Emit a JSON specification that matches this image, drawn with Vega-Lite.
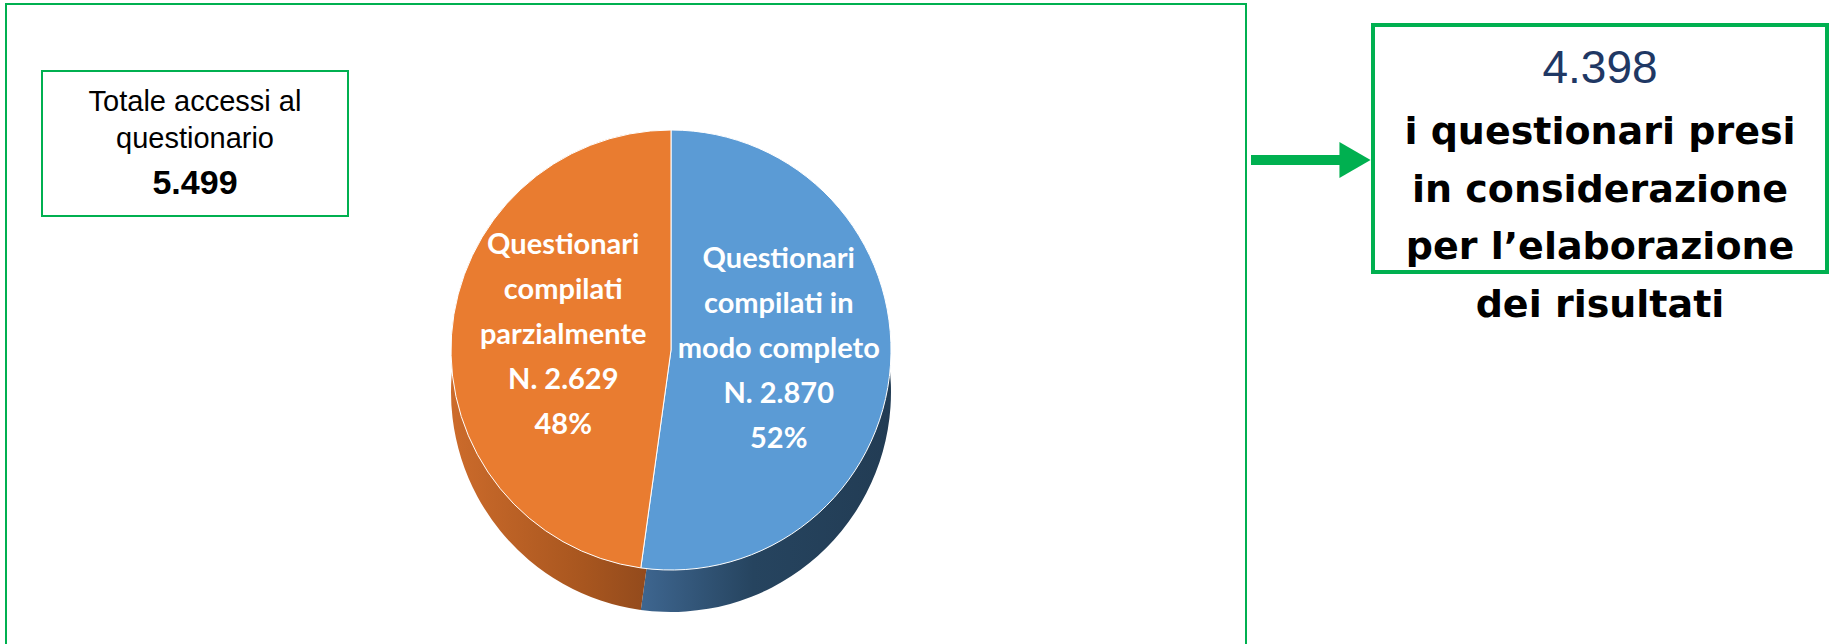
{
  "$schema": "https://vega.github.io/schema/vega-lite/v6.json",
  "width": 1832,
  "height": 644,
  "autosize": {"type": "fit", "contains": "padding"},
  "padding": 0,
  "background": "#ffffff",
  "config": {"view": {"stroke": null}},
  "datasets": {
    "fette": [
      {"categoria": "Questionari compilati in modo completo", "n": 2870, "ordine": 1, "etichetta": "Questionari\ncompilati in\nmodo completo\nN. 2.870\n52%"},
      {"categoria": "Questionari compilati parzialmente", "n": 2629, "ordine": 2, "etichetta": "Questionari\ncompilati\nparzialmente\nN. 2.629\n48%"}
    ],
    "totale": [{"testo": "Totale accessi al\nquestionario", "valore": "5.499"}],
    "risultato": [{"valore": "4.398", "testo": "i questionari presi\nin considerazione\nper l’elaborazione\ndei risultati"}]
  },
  "layer": [
    {
      "data": {"name": "totale"},
      "mark": {"type": "rect", "x": 6, "y": 4, "x2": 1246, "y2": 700, "filled": false, "color": "#00B050", "strokeWidth": 2},
      "encoding": {}
    },
    {
      "data": {"name": "fette"},
      "mark": {"type": "arc", "x": 671, "y": 392, "outerRadius": 220},
      "encoding": {
        "theta": {"field": "n", "type": "quantitative", "stack": true},
        "order": {"field": "ordine", "type": "quantitative"},
        "fill": {
          "condition": {
            "test": "datum.ordine == 1",
            "value": {"gradient": "linear", "x1": 0, "y1": 0, "x2": 1, "y2": 0,
              "stops": [{"offset": 0, "color": "#3E6690"}, {"offset": 0.45, "color": "#26445F"}, {"offset": 1, "color": "#223C54"}]}
          },
          "value": {"gradient": "linear", "x1": 0, "y1": 0, "x2": 1, "y2": 0,
            "stops": [{"offset": 0, "color": "#CC6B2B"}, {"offset": 0.6, "color": "#A8561F"}, {"offset": 1, "color": "#8B461B"}]}
        }
      }
    },
    {
      "data": {"name": "fette"},
      "mark": {"type": "arc", "x": 671, "y": 350, "outerRadius": 220, "stroke": "#ffffff", "strokeWidth": 1},
      "encoding": {
        "theta": {"field": "n", "type": "quantitative", "stack": true},
        "order": {"field": "ordine", "type": "quantitative"},
        "color": {
          "field": "categoria",
          "type": "nominal",
          "scale": {"domain": ["Questionari compilati in modo completo", "Questionari compilati parzialmente"], "range": ["#5B9BD5", "#E97C30"]},
          "legend": null
        }
      }
    },
    {
      "data": {"name": "fette"},
      "mark": {"type": "text", "x": 671, "y": 350, "radius": 108, "dy": -98, "font": "Lato", "fontWeight": "bold", "fontSize": 29, "lineBreak": "\n", "lineHeight": 45, "align": "center", "baseline": "middle", "color": "#ffffff"},
      "encoding": {
        "theta": {"field": "n", "type": "quantitative", "stack": true},
        "order": {"field": "ordine", "type": "quantitative"},
        "text": {"field": "etichetta", "type": "nominal"}
      }
    },
    {
      "data": {"name": "totale"},
      "mark": {"type": "rect", "x": 42, "y": 71, "x2": 348, "y2": 216, "filled": false, "color": "#00B050", "strokeWidth": 2},
      "encoding": {}
    },
    {
      "data": {"name": "totale"},
      "mark": {"type": "text", "x": 195, "y": 111, "font": "Liberation Sans", "fontSize": 29, "lineBreak": "\n", "lineHeight": 37, "align": "center", "baseline": "alphabetic", "color": "#000000"},
      "encoding": {"text": {"field": "testo", "type": "nominal"}}
    },
    {
      "data": {"name": "totale"},
      "mark": {"type": "text", "x": 195, "y": 194, "font": "Liberation Sans", "fontWeight": "bold", "fontSize": 34, "align": "center", "baseline": "alphabetic", "color": "#000000"},
      "encoding": {"text": {"field": "valore", "type": "nominal"}}
    },
    {
      "data": {"name": "risultato"},
      "mark": {"type": "rect", "x": 1251, "x2": 1342, "y": 155, "y2": 165, "color": "#00B050"},
      "encoding": {}
    },
    {
      "data": {"name": "risultato"},
      "mark": {"type": "point", "shape": "triangle-right", "x": 1355, "y": 160, "size": 1296, "filled": true, "opacity": 1, "color": "#00B050"},
      "encoding": {}
    },
    {
      "data": {"name": "risultato"},
      "mark": {"type": "rect", "x": 1373, "y": 25, "x2": 1827, "y2": 272, "filled": false, "color": "#00B050", "strokeWidth": 4},
      "encoding": {}
    },
    {
      "data": {"name": "risultato"},
      "mark": {"type": "text", "x": 1600, "y": 83, "font": "Liberation Sans", "fontSize": 46, "align": "center", "baseline": "alphabetic", "color": "#1F3864"},
      "encoding": {"text": {"field": "valore", "type": "nominal"}}
    },
    {
      "data": {"name": "risultato"},
      "mark": {"type": "text", "x": 1600, "y": 144, "font": "DejaVu Sans", "fontWeight": "bold", "fontSize": 38, "lineBreak": "\n", "lineHeight": 57.7, "align": "center", "baseline": "alphabetic", "color": "#000000"},
      "encoding": {"text": {"field": "testo", "type": "nominal"}}
    }
  ]
}
